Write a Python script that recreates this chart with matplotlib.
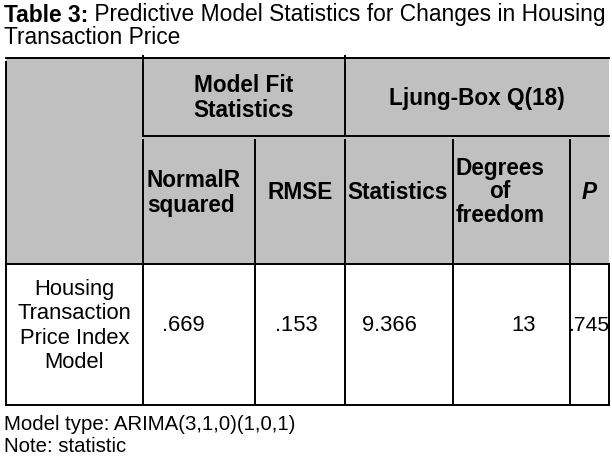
import matplotlib.pyplot as plt
from matplotlib.patches import Rectangle

title_bold = "Table 3:"
title_rest = " Predictive Model Statistics for Changes in Housing"
title_line2 = "Transaction Price"

group_headers = ["Model Fit\nStatistics", "Ljung-Box Q(18)"]
col_headers = ["NormalR\nsquared", "RMSE", "Statistics", "Degrees\nof\nfreedom", "P"]
row_label = "Housing\nTransaction\nPrice Index\nModel"
row_values = [".669", ".153", "9.366", "13", ".745"]
footnotes = ["Model type: ARIMA(3,1,0)(1,0,1)", "Note: statistic"]

plt.rcParams['font.family'] = ['Liberation Sans', 'DejaVu Sans']

fig = plt.figure(figsize=(6.12, 4.6), dpi=100)
ax = fig.add_axes([0, 0, 1, 1])
ax.set_xlim(0, 612)
ax.set_ylim(460, 0)
ax.axis('off')

# grid geometry in pixels
xs = [6, 143, 255, 345, 453, 570, 609]
y_top, y_mid, y_head, y_bot = 59, 137, 265, 406
lw = 1.4

tfs, hfs, dfs, nfs = 16.4, 16.3, 15.8, 14.7

# header background
ax.add_patch(Rectangle((xs[0], y_top), xs[-1] - xs[0], y_head - y_top,
                       facecolor='#c0c0c0', edgecolor='none'))

# horizontal lines
ax.plot([xs[0], xs[-1]], [y_top, y_top], color='black', lw=lw)
ax.plot([xs[1], xs[-1]], [y_mid, y_mid], color='black', lw=lw)
ax.plot([xs[0], xs[-1]], [y_head, y_head], color='black', lw=lw)
ax.plot([xs[0], xs[-1]], [y_bot, y_bot], color='black', lw=lw)

# vertical lines
ax.plot([xs[0], xs[0]], [y_top + 4, y_bot], color='black', lw=lw)
for x in [xs[1], xs[3]]:
    ax.plot([x, x], [y_top - 2, y_mid], color='black', lw=lw)
for x in xs[1:6]:
    ax.plot([x, x], [y_mid + 4, y_head], color='black', lw=lw)
for x in xs[1:]:
    ax.plot([x, x], [y_head, y_bot], color='black', lw=lw)

# title
t = ax.text(4, 15, title_bold, fontsize=tfs, fontweight='bold', va='center', ha='left')
ax.annotate(title_rest, xy=(1, 0), xycoords=t, va='bottom', ha='left', fontsize=tfs)
ax.text(4, 37, title_line2, fontsize=tfs, va='center', ha='left')

# group headers
ax.text((xs[1] + xs[3]) / 2, 98, group_headers[0], fontsize=hfs, fontweight='bold',
        ha='center', va='center', multialignment='center', linespacing=1.1)
ax.text((xs[3] + xs[6]) / 2, 99, group_headers[1], fontsize=hfs, fontweight='bold',
        ha='center', va='center')

# column headers
hy = 193
ax.text(147, hy, col_headers[0], fontsize=hfs, fontweight='bold', ha='left', va='center',
        linespacing=1.1)
ax.text((xs[2] + xs[3]) / 2, hy, col_headers[1], fontsize=hfs, fontweight='bold',
        ha='center', va='center')
ax.text(347, hy, col_headers[2], fontsize=hfs, fontweight='bold', ha='left', va='center')
ax.text(500, hy - 1, col_headers[3], fontsize=hfs, fontweight='bold', ha='center',
        va='center', multialignment='center', linespacing=1.05)
ax.text((xs[5] + xs[6]) / 2, hy, col_headers[4], fontsize=hfs, fontweight='bold',
        style='italic', ha='center', va='center')

# data row
dy = 326
ax.text((xs[0] + xs[1]) / 2, dy, row_label, fontsize=dfs, ha='center', va='center',
        multialignment='center', linespacing=1.22)
ax.text(162, dy, row_values[0], fontsize=dfs, ha='left', va='center')
ax.text(275, dy, row_values[1], fontsize=dfs, ha='left', va='center')
ax.text(362, dy, row_values[2], fontsize=dfs, ha='left', va='center')
ax.text(536, dy, row_values[3], fontsize=dfs, ha='right', va='center')
ax.text(609, dy, row_values[4], fontsize=dfs - 0.6, ha='right', va='center')

# footnotes
ax.text(4, 425, footnotes[0], fontsize=nfs, ha='left', va='center')
ax.text(4, 447, footnotes[1], fontsize=nfs, ha='left', va='center')

fig.savefig('out.png', dpi=100)
